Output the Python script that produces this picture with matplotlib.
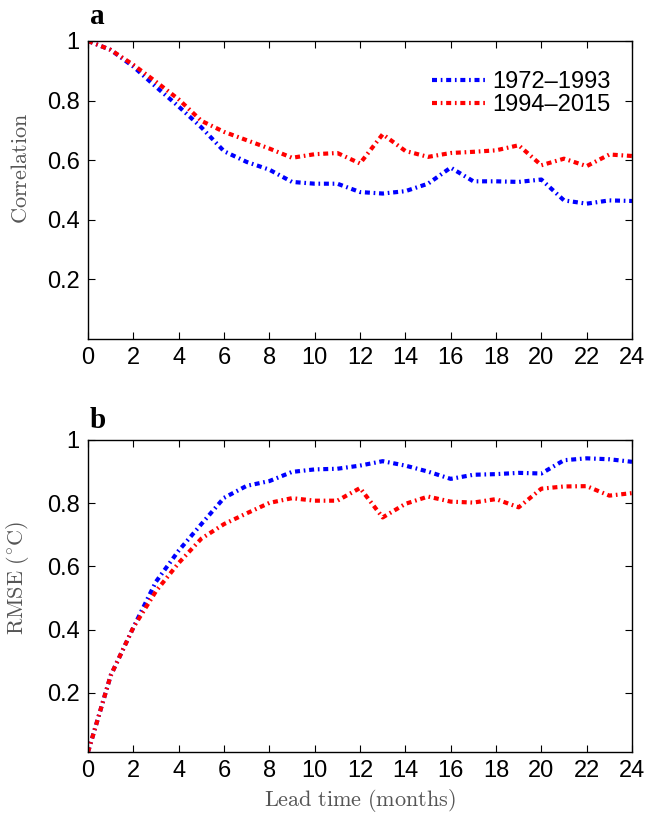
import numpy as np
import matplotlib
matplotlib.use('Agg')
import matplotlib.pyplot as plt

plt.rcParams['mathtext.fontset'] = 'cm'

lead = list(range(25))

# correlation skill
corr_early = [1.0, 0.97, 0.914, 0.846, 0.78, 0.71, 0.63, 0.594, 0.568, 0.527, 0.521, 0.521,
              0.493, 0.488, 0.496, 0.521, 0.575, 0.529, 0.529, 0.527, 0.535, 0.465, 0.454,
              0.465, 0.463]
corr_late = [1.0, 0.97, 0.92, 0.863, 0.804, 0.732, 0.695, 0.667, 0.639, 0.608, 0.62, 0.624,
             0.589, 0.687, 0.631, 0.611, 0.624, 0.628, 0.633, 0.65, 0.583, 0.605, 0.58,
             0.619, 0.614]

# RMSE (degC)
rmse_early = [0.013, 0.255, 0.407, 0.552, 0.65, 0.734, 0.817, 0.855, 0.87, 0.899, 0.907, 0.909,
              0.919, 0.933, 0.919, 0.9, 0.877, 0.89, 0.892, 0.896, 0.894, 0.936, 0.942,
              0.939, 0.931]
rmse_late = [0.013, 0.255, 0.407, 0.522, 0.611, 0.688, 0.734, 0.768, 0.801, 0.816, 0.808, 0.808,
             0.848, 0.755, 0.798, 0.821, 0.805, 0.802, 0.813, 0.787, 0.846, 0.853, 0.854,
             0.824, 0.832]

labels = ['1972\u20131993', '1994\u20132015']
xticks = list(range(0, 25, 2))
yticks = [0.2, 0.4, 0.6, 0.8, 1]

tick_font = 'Liberation Sans'
label_grey = '#555555'
ls = (0, (1.2, 0.9, 0.4, 0.9))

fig = plt.figure(figsize=(6.55, 8.16), dpi=100)
ax1 = fig.add_axes([0.1344, 0.5846, 0.8305, 0.3652])
ax2 = fig.add_axes([0.1344, 0.0784, 0.8305, 0.3824])


def style(ax):
    ax.set_xlim(0, 24)
    ax.set_xticks(xticks)
    ax.set_yticks(yticks)
    ax.set_yticklabels(['0.2', '0.4', '0.6', '0.8', '1'])
    ax.tick_params(direction='in', length=5, width=0.8, top=True, right=True,
                   labelsize=17, pad=6)
    for t in ax.get_xticklabels() + ax.get_yticklabels():
        t.set_fontfamily(tick_font)
    for s in ax.spines.values():
        s.set_linewidth(1.0)


ax1.plot(lead, corr_early, color='blue', lw=3, linestyle=ls, label=labels[0])
ax1.plot(lead, corr_late, color='red', lw=3, linestyle=ls, label=labels[1])
ax1.set_ylim(0, 1)
style(ax1)
ax1.set_ylabel(r'$\mathrm{Correlation}$', fontsize=16, color=label_grey)
ax1.yaxis.set_label_coords(-0.105, 0.574)
leg = ax1.legend(loc='upper right', frameon=False, prop={'family': tick_font, 'size': 17},
                 handlelength=2.3, handletextpad=0.25, labelspacing=0.05,
                 bbox_to_anchor=(1.0, 0.97))

ax2.plot(lead, rmse_early, color='blue', lw=3, linestyle=ls)
ax2.plot(lead, rmse_late, color='red', lw=3, linestyle=ls)
ax2.set_ylim(0.013, 1)
style(ax2)
ax2.set_ylabel(r'$\mathrm{RMSE\ (^{\circ}C)}$', fontsize=16, color=label_grey)
ax2.yaxis.set_label_coords(-0.105, 0.558)
ax2.set_xlabel(r'$\mathrm{Lead\ time\ (months)}$', fontsize=16, color=label_grey, labelpad=3)

fig.text(0.137, 0.970, 'a', fontsize=21, fontweight='bold', family='Liberation Serif')
fig.text(0.137, 0.476, 'b', fontsize=21, fontweight='bold', family='Liberation Serif')

fig.savefig('out.png', dpi=100)
